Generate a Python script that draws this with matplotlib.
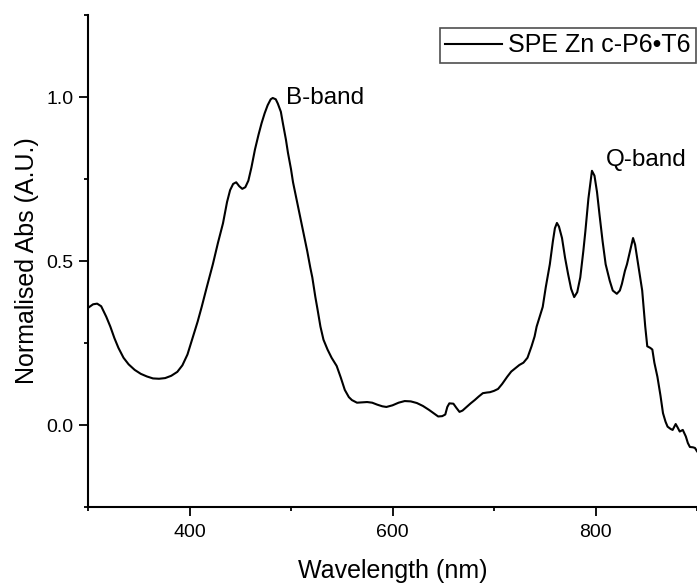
import matplotlib
matplotlib.use("Agg")
import matplotlib.pyplot as plt
from matplotlib.ticker import MultipleLocator

plt.rcParams['font.family'] = ['Liberation Sans', 'DejaVu Sans']

# Normalised absorption spectrum of SPE Zn c-P6•T6
wavelength_nm = [
    300, 305, 309, 313, 318, 322, 326, 330, 335, 340, 346, 352, 358, 364, 370,
    376, 382, 388, 393, 398, 403, 408, 412, 417, 423, 428, 433, 437, 440, 443,
    446, 449, 452, 455, 458, 461, 464.5, 468, 471, 474, 477, 480, 482, 485, 487,
    490, 492, 495, 497, 500, 502, 506, 509, 513, 516, 519, 521, 524, 526, 529,
    532, 536, 540, 545, 549, 553, 557, 560, 565, 570, 575, 580, 585, 590, 594,
    600, 606, 612, 618, 624, 630, 636, 641, 645, 649, 652, 654, 656, 660, 663,
    666, 669, 673, 677, 681, 685, 689, 693, 696, 700, 704, 708, 713, 717, 721,
    725, 729, 733, 737, 740, 742, 745, 748, 751, 755, 758, 760, 762, 764, 767,
    770, 773, 776, 779, 782, 785, 788, 790, 793, 796.5, 799, 801.5, 804, 807,
    810, 814, 817, 821, 824, 826, 829, 831, 834, 837, 839, 841, 843, 846, 849,
    851, 854, 856, 858, 861, 864, 866.5, 869, 871, 874, 876, 879, 881, 883, 886,
    889, 891, 893, 896, 898, 900,
]
norm_abs = [
    0.357, 0.368, 0.370, 0.362, 0.330, 0.300, 0.265, 0.235, 0.205, 0.185, 0.168,
    0.156, 0.148, 0.142, 0.141, 0.143, 0.150, 0.162, 0.182, 0.215, 0.265, 0.315,
    0.360, 0.420, 0.490, 0.555, 0.615, 0.680, 0.716, 0.735, 0.740, 0.728, 0.720,
    0.725, 0.745, 0.785, 0.840, 0.885, 0.920, 0.950, 0.975, 0.993, 0.997, 0.993,
    0.980, 0.955, 0.920, 0.870, 0.830, 0.780, 0.740, 0.680, 0.635, 0.575, 0.530,
    0.480, 0.450, 0.390, 0.355, 0.300, 0.260, 0.230, 0.205, 0.180, 0.145, 0.107,
    0.085, 0.076, 0.068, 0.069, 0.070, 0.068, 0.062, 0.057, 0.055, 0.060, 0.068,
    0.073, 0.072, 0.067, 0.058, 0.046, 0.035, 0.026, 0.027, 0.032, 0.055, 0.066,
    0.065, 0.052, 0.040, 0.044, 0.055, 0.066, 0.076, 0.087, 0.097, 0.099, 0.100,
    0.104, 0.110, 0.125, 0.147, 0.163, 0.173, 0.183, 0.190, 0.205, 0.240, 0.270,
    0.300, 0.330, 0.360, 0.420, 0.490, 0.560, 0.600, 0.616, 0.605, 0.570, 0.510,
    0.460, 0.415, 0.390, 0.405, 0.450, 0.530, 0.590, 0.690, 0.775, 0.760, 0.710,
    0.640, 0.560, 0.490, 0.440, 0.410, 0.400, 0.410, 0.430, 0.470, 0.490, 0.530,
    0.570, 0.550, 0.510, 0.470, 0.410, 0.300, 0.240, 0.235, 0.230, 0.190, 0.147,
    0.090, 0.036, 0.010, -0.005, -0.012, -0.015, 0.003, -0.008, -0.020, -0.015,
    -0.035, -0.055, -0.067, -0.068, -0.070, -0.080,
]

series_label = "SPE Zn c-P6•T6"
band_labels = ["B-band", "Q-band"]
band_label_pos = [(495, 0.98), (810, 0.79)]

fig = plt.figure(figsize=(6.97, 5.84), dpi=100)
ax = fig.add_axes([88 / 697, 1 - 507 / 584, 609 / 697, 492 / 584])

line, = ax.plot(wavelength_nm, norm_abs, color='black', lw=1.5, label=series_label)

ax.set_xlim(300, 900)
ax.set_ylim(-0.25, 1.25)
ax.xaxis.set_major_locator(MultipleLocator(200))
ax.xaxis.set_minor_locator(MultipleLocator(100))
ax.yaxis.set_major_locator(MultipleLocator(0.5))
ax.yaxis.set_minor_locator(MultipleLocator(0.25))
ax.xaxis.set_major_formatter(plt.FuncFormatter(lambda v, p: "" if v in (300, 900) else f"{v:.0f}"))
ax.yaxis.set_major_formatter(plt.FuncFormatter(lambda v, p: f"{v:.1f}"))

for s in ('top', 'right'):
    ax.spines[s].set_visible(False)
for s in ('left', 'bottom'):
    ax.spines[s].set_linewidth(1.5)

ax.tick_params(which='major', direction='out', length=6.5, width=1.3,
               labelsize=14, pad=4)
ax.tick_params(axis='x', which='major', pad=6)
ax.tick_params(which='minor', direction='out', length=3, width=1.3)

ax.set_xlabel("Wavelength (nm)", fontsize=18, labelpad=13)
ax.set_ylabel("Normalised Abs (A.U.)", fontsize=18, labelpad=5)

for txt, (x, y) in zip(band_labels, band_label_pos):
    ax.text(x, y, txt, fontsize=17.5, ha='left', va='baseline')

leg = ax.legend(handles=[line], loc='upper left',
                bbox_to_anchor=(440 / 697, 1 - 28 / 584),
                bbox_transform=fig.transFigure, fontsize=18,
                frameon=True, fancybox=False, borderpad=0.22,
                handlelength=2.25, handletextpad=0.25, borderaxespad=0)
leg.get_frame().set_edgecolor('#222222')
leg.get_frame().set_linewidth(1.2)

fig.savefig("out.png", dpi=100)
